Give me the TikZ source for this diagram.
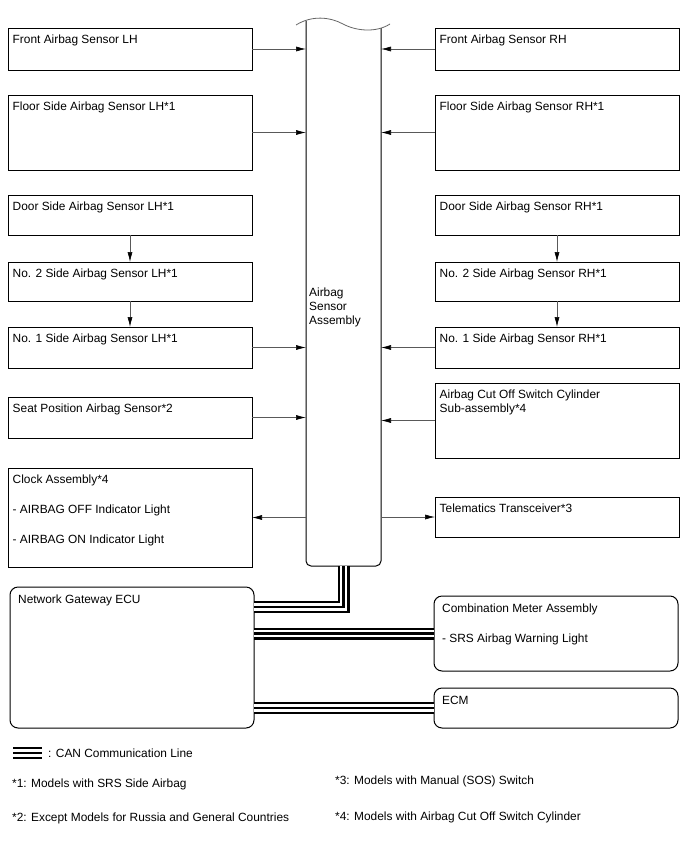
\documentclass[tikz,border=0pt]{standalone}
\usepackage{fontspec}
\setmainfont{Liberation Sans}
\usetikzlibrary{arrows.meta, positioning}

\begin{document}
\begin{tikzpicture}[
  x=1pt, y=-1pt,
  node distance=25pt and 183pt,
  sbox/.style={rectangle, draw=black, line width=1pt, minimum width=244pt,
               inner sep=0pt, outer sep=0pt},
  ecubox/.style={sbox, rounded corners=8pt},
  ttext/.style={anchor=north west, inner sep=0pt, align=left,
                font=\fontsize{11.9}{14}\selectfont},
  tlabel/.style={ttext, xshift=4.5pt, yshift=-7pt},
  wlabel/.style={tlabel, font=\fontsize{11.9}{30}\selectfont},
  elabel/.style={ttext, xshift=8pt, yshift=-8pt, font=\fontsize{11.9}{30}\selectfont},
  arr/.style={-{Latex[length=10pt, width=5pt, color=black]}, line width=0.6pt, draw=black!65},
  can/.style={draw=white, line width=7.5pt,
              preaction={draw=black, line width=12pt},
              postaction={draw=black, line width=2.5pt}}
]
\fill[white] (0,0) rectangle (688,852);
\useasboundingbox (0,0) rectangle (688,852);

% airbag sensor assembly
\node[anchor=north west, minimum width=75pt, minimum height=545pt,
      inner sep=0pt, outer sep=0pt] (sas) at (306,21) {};
\draw[line width=1pt, rounded corners=5pt] (sas.north west) -- (sas.south west)
  -- (sas.south east) -- ([yshift=-7pt]sas.north east);
\draw[black!60, line width=0.8pt] (296,25) .. controls (312,15) and (330,17) .. (343,24)
  .. controls (356,31) and (376,33) .. (390,24);
\node[ttext] (saslbl) at (309,287.5) {Airbag\\Sensor\\Assembly};

% left column
\node[sbox, anchor=north west, minimum height=42pt,
      label={[tlabel]north west:Front Airbag Sensor LH}] (flh) at (8,28) {};
\node[sbox, below=of flh, minimum height=75pt,
      label={[tlabel]north west:Floor Side Airbag Sensor LH*1}] (fslh) {};
\node[sbox, below=of fslh, minimum height=40pt,
      label={[tlabel]north west:Door Side Airbag Sensor LH*1}] (dlh) {};
\node[sbox, below=27pt of dlh, minimum height=39pt,
      label={[tlabel]north west:No. 2 Side Airbag Sensor LH*1}] (n2lh) {};
\node[sbox, below=26pt of n2lh, minimum height=41pt,
      label={[tlabel]north west:No. 1 Side Airbag Sensor LH*1}] (n1lh) {};
\node[sbox, below=29pt of n1lh, minimum height=41pt,
      label={[tlabel]north west:Seat Position Airbag Sensor*2}] (seat) {};
\node[sbox, below=30pt of seat, minimum height=99pt,
      label={[wlabel]north west:{Clock Assembly*4\\- AIRBAG OFF Indicator Light\\- AIRBAG ON Indicator Light}}] (clk) {};

% right column
\node[sbox, right=of flh, minimum height=42pt,
      label={[tlabel]north west:Front Airbag Sensor RH}] (frh) {};
\node[sbox, right=of fslh, minimum height=75pt,
      label={[tlabel]north west:Floor Side Airbag Sensor RH*1}] (fsrh) {};
\node[sbox, right=of dlh, minimum height=40pt,
      label={[tlabel]north west:Door Side Airbag Sensor RH*1}] (drh) {};
\node[sbox, right=of n2lh, minimum height=39pt,
      label={[tlabel]north west:No. 2 Side Airbag Sensor RH*1}] (n2rh) {};
\node[sbox, right=of n1lh, minimum height=41pt,
      label={[tlabel]north west:No. 1 Side Airbag Sensor RH*1}] (n1rh) {};
\node[sbox, below=15pt of n1rh, minimum height=75pt,
      label={[tlabel]north west:{Airbag Cut Off Switch Cylinder\\Sub-assembly*4}}] (cut) {};
\node[sbox, below=39pt of cut, minimum height=40pt,
      label={[tlabel]north west:Telematics Transceiver*3}] (tele) {};

% ECUs
\node[ecubox, anchor=north west, minimum height=141pt,
      label={[elabel]north west:Network Gateway ECU}] (ngw) at (10,587) {};
\node[ecubox, anchor=north west, minimum height=75pt,
      label={[elabel]north west:{Combination Meter Assembly\\- SRS Airbag Warning Light}}] (comb) at (434,596) {};
\node[ecubox, below=17pt of comb, minimum height=40pt,
      label={[elabel]north west:ECM}] (ecm) {};

% sensor lines
\draw[arr] (flh.east) -- (flh.east -| sas.west);
\draw[arr] (fslh.east) -- (fslh.east -| sas.west);
\draw[arr] (n1lh.east) -- (n1lh.east -| sas.west);
\draw[arr] (seat.east) -- (seat.east -| sas.west);
\draw[arr] (clk.east -| sas.west) -- (clk.east);
\draw[arr] (dlh.south) -- (n2lh.north);
\draw[arr] (n2lh.south) -- (n1lh.north);
\draw[arr] (frh.west) -- (frh.west -| sas.east);
\draw[arr] (fsrh.west) -- (fsrh.west -| sas.east);
\draw[arr] (n1rh.west) -- (n1rh.west -| sas.east);
\draw[arr] (cut.west) -- (cut.west -| sas.east);
\draw[arr] (tele.west -| sas.east) -- (tele.west);
\draw[arr] (drh.south) -- (n2rh.north);
\draw[arr] (n2rh.south) -- (n1rh.north);

% CAN lines
\draw[can] (sas.south) -- (sas.south |- 0,607) -- (ngw.east |- 0,607);
\draw[can] (ngw.east |- comb.west) -- (comb.west);
\draw[can] (ngw.east |- ecm.west) -- (ecm.west);

% legend
\coordinate (lgA) at (13,753);
\coordinate (lgB) at (42,753);
\draw[can] (lgA) -- (lgB);
\node[ttext, anchor=west] (lgtxt) at (48,753) {: CAN Communication Line};
\node[ttext, anchor=west] (fn1) at (12,784) {*1: Models with SRS Side Airbag};
\node[ttext, anchor=west] (fn2) at (12,818) {*2: Except Models for Russia and General Countries};
\node[ttext, anchor=west] (fn3) at (335,781) {*3: Models with Manual (SOS) Switch};
\node[ttext, anchor=west] (fn4) at (335,817) {*4: Models with Airbag Cut Off Switch Cylinder};
\end{tikzpicture}
\end{document}
